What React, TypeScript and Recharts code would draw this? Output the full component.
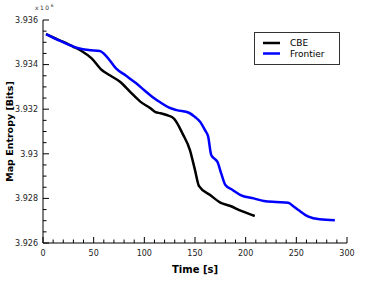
import React from 'react';
import { LineChart, Line, XAxis, YAxis, Legend } from 'recharts';

// values are in units of 10^6 bits
const cbeTime = [3, 17, 30, 38, 48, 58, 66, 76, 86, 96, 106, 111, 116, 122, 129, 138, 145, 150, 154, 165, 175, 185, 195, 209];
const cbeEntropy = [
  3.93537, 3.93508, 3.9348, 3.93461, 3.93428, 3.93376, 3.93352, 3.93323, 3.93278, 3.93234, 3.93204, 3.93187,
  3.93182, 3.93174, 3.93159, 3.93088, 3.93017, 3.92927, 3.92855, 3.92815, 3.92781, 3.92766, 3.92745, 3.92721,
];

const frontierTime = [
  3, 17, 35, 45, 56, 63, 72, 82, 92, 100, 108, 116, 124, 132, 144, 150, 155, 160, 163, 166, 170, 172, 176, 180,
  187, 195, 208, 218, 230, 242, 247, 252, 262, 273, 288,
];
const frontierEntropy = [
  3.93537, 3.93506, 3.93473, 3.93465, 3.93461, 3.93435, 3.93383, 3.9335, 3.93316, 3.93285, 3.93255, 3.9323,
  3.93208, 3.93196, 3.93184, 3.93165, 3.93144, 3.93105, 3.93077, 3.92995, 3.92975, 3.92965, 3.9291, 3.9286,
  3.92838, 3.92815, 3.928, 3.92788, 3.92784, 3.92781, 3.92765, 3.92748, 3.92718, 3.92706, 3.92702,
];

const xMajorTicks = [0, 50, 100, 150, 200, 250, 300];
const yMajorTicks = [3.926, 3.928, 3.93, 3.932, 3.934, 3.936];

const xTicks: number[] = [];
for (let i = 0; i <= 30; i++) xTicks.push(i * 10);
const yTicks: number[] = [];
for (let i = 0; i <= 20; i++) yTicks.push(Number((3.926 + i * 0.0005).toFixed(4)));

const cbeData = cbeTime.map((t, i) => ({ t, v: cbeEntropy[i] }));
const frontierData = frontierTime.map((t, i) => ({ t, v: frontierEntropy[i] }));

const FONT = '"DejaVu Sans", sans-serif';
const isXMajor = (v: number) => xMajorTicks.includes(v);
const isYMajor = (v: number) => yMajorTicks.some((m) => Math.abs(m - v) < 1e-7);

const BottomTick = ({ x, y, payload }: any) => {
  const major = isXMajor(payload.value);
  return (
    <g>
      <line x1={x} x2={x} y1={y} y2={y - (major ? 6 : 3.5)} stroke="#000" />
      {major && (
        <text x={x} y={y + 13} textAnchor="middle" fontSize={8} fontFamily={FONT} fill="#222">
          {payload.value}
        </text>
      )}
    </g>
  );
};

const TopTick = ({ x, y, payload }: any) => (
  <line x1={x} x2={x} y1={y} y2={y + (isXMajor(payload.value) ? 6 : 3.5)} stroke="#000" />
);

const LeftTick = ({ x, y, payload }: any) => {
  const major = isYMajor(payload.value);
  return (
    <g>
      <line x1={x} x2={x + (major ? 6 : 3.5)} y1={y} y2={y} stroke="#000" />
      {major && (
        <text x={x - 5} y={y} dy="0.35em" textAnchor="end" fontSize={8} fontFamily={FONT} fill="#222">
          {String(Number(payload.value.toFixed(3)))}
        </text>
      )}
    </g>
  );
};

const RightTick = ({ x, y, payload }: any) => (
  <line x1={x} x2={x - (isYMajor(payload.value) ? 6 : 3.5)} y1={y} y2={y} stroke="#000" />
);

const LegendBox = () => (
  <svg width={86} height={33}>
    <rect x={0.5} y={0.5} width={85} height={32} fill="#fff" stroke="#333" />
    <line x1={9} x2={26} y1={11} y2={11} stroke="#000" strokeWidth={2.5} />
    <line x1={9} x2={26} y1={21.5} y2={21.5} stroke="#0000ff" strokeWidth={2.5} />
    <text x={36} y={11} dy="0.35em" fontSize={9} fontFamily={FONT} fill="#000">CBE</text>
    <text x={36} y={21.5} dy="0.35em" fontSize={9} fontFamily={FONT} fill="#000">Frontier</text>
  </svg>
);

export default function App() {
  return (
    <div style={{ position: 'absolute', left: 0, top: 0, width: 374, height: 284, background: '#fff' }}>
      <LineChart width={374} height={284} margin={{ top: 20, right: 27, bottom: 0, left: 0 }}>
        <XAxis
          dataKey="t"
          type="number"
          domain={[0, 300]}
          ticks={xTicks}
          interval={0}
          allowDataOverflow
          height={41}
          tickSize={0}
          tickMargin={0}
          tickLine={false}
          tick={<BottomTick />}
          axisLine={{ stroke: '#000' }}
          label={{
            value: 'Time [s]',
            position: 'insideBottom',
            offset: 11,
            style: { fontFamily: FONT, fontSize: 10, fontWeight: 'bold', fill: '#000' },
          }}
        />
        <XAxis
          xAxisId="top"
          orientation="top"
          dataKey="t"
          type="number"
          domain={[0, 300]}
          ticks={xTicks}
          interval={0}
          height={0}
          tickSize={0}
          tickMargin={0}
          tickLine={false}
          tick={<TopTick />}
          axisLine={{ stroke: '#000' }}
        />
        <YAxis
          type="number"
          domain={[3.926, 3.936]}
          ticks={yTicks}
          interval={0}
          allowDataOverflow
          width={43}
          tickSize={0}
          tickMargin={0}
          tickLine={false}
          tick={<LeftTick />}
          axisLine={{ stroke: '#000' }}
          label={{
            value: 'Map Entropy [Bits]',
            angle: -90,
            position: 'insideLeft',
            offset: 10,
            style: { fontFamily: FONT, fontSize: 9.5, fontWeight: 'bold', fill: '#000', textAnchor: 'middle' },
          }}
        />
        <YAxis
          yAxisId="right"
          orientation="right"
          type="number"
          domain={[3.926, 3.936]}
          ticks={yTicks}
          interval={0}
          width={0}
          tickSize={0}
          tickMargin={0}
          tickLine={false}
          tick={<RightTick />}
          axisLine={{ stroke: '#000' }}
        />
        <Legend
          layout="vertical"
          align="center"
          verticalAlign="middle"
          content={() => <LegendBox />}
          wrapperStyle={{ left: 254, top: 32, width: 86, height: 33 }}
        />
        <Line
          data={cbeData}
          dataKey="v"
          name="CBE"
          type="monotone"
          stroke="#000"
          strokeWidth={2.5}
          dot={false}
          isAnimationActive={false}
        />
        <Line
          data={frontierData}
          dataKey="v"
          name="Frontier"
          type="monotone"
          stroke="#0000ff"
          strokeWidth={2.5}
          dot={false}
          isAnimationActive={false}
        />
      </LineChart>
      <div
        style={{
          position: 'absolute',
          left: 35,
          top: 4,
          fontFamily: FONT,
          fontSize: 6,
          letterSpacing: 1.5,
          color: '#333',
          lineHeight: 1,
        }}
      >
        x10<sup style={{ fontSize: 4.5, letterSpacing: 0 }}>6</sup>
      </div>
    </div>
  );
}
